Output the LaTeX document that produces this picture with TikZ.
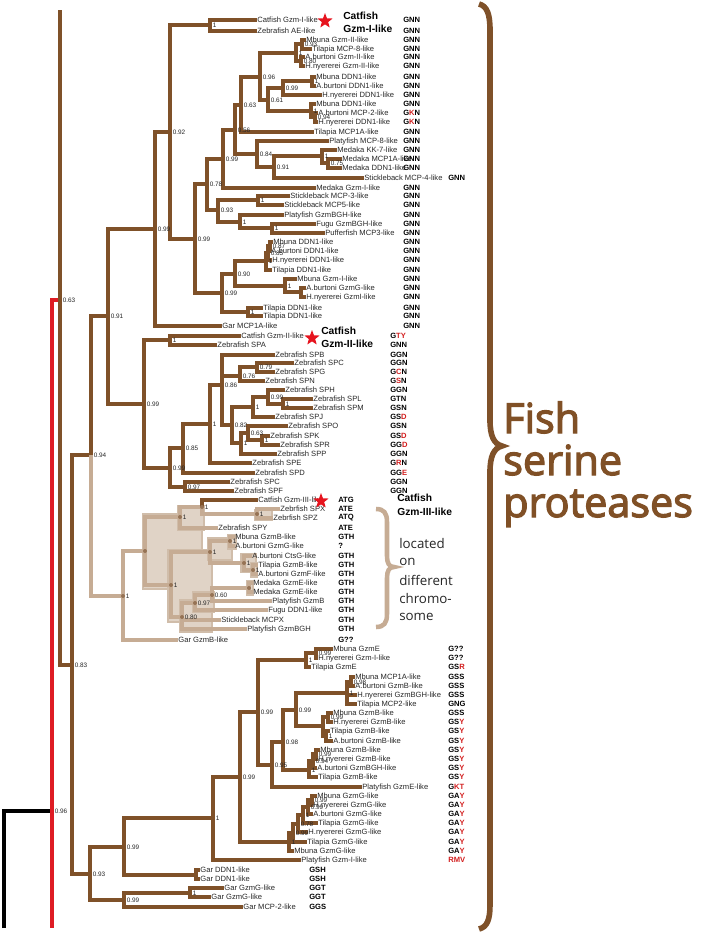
\documentclass[tikz,border=0pt]{standalone}
\usepackage{fontspec}
\setmainfont{Liberation Sans}
\newfontfamily\osans{Open Sans}
\newfontfamily\bigfont{Open Sans}[FakeBold=3]
\usetikzlibrary{shapes.geometric}
\definecolor{dbrown}{RGB}{127,81,41}
\definecolor{lbrown}{RGB}{198,172,148}
\definecolor{shadefill}{RGB}{224,211,198}
\definecolor{shadeedge}{RGB}{208,189,170}
\definecolor{dotc}{RGB}{150,115,85}
\definecolor{treered}{RGB}{222,28,36}
\definecolor{codered}{RGB}{210,30,30}
\definecolor{starred}{RGB}{230,20,30}
\definecolor{bigbrown}{RGB}{128,80,38}
\newcommand\rd[1]{\textcolor{codered}{#1}}
\begin{document}
\begin{tikzpicture}[x=0.75pt,y=-0.75pt,
  tbr/.style={draw=dbrown,line width=3pt},
  tlt/.style={draw=lbrown,line width=3.4pt},
  blk/.style={draw=black,line width=2.3pt},
  redl/.style={draw=treered,line width=2.3pt},
  rootb/.style={draw=dbrown,line width=2.3pt},
  leaf/.style={anchor=west,inner sep=0.3pt,outer sep=0pt,text height=4.2pt,text depth=1.2pt,font=\fontsize{5.7}{6}\selectfont,text=black!85},
  sup/.style={anchor=west,inner sep=0pt,font=\fontsize{4.8}{5}\selectfont,text=black!85},
  code/.style={anchor=west,inner sep=0pt,font=\bfseries\fontsize{5.7}{6}\selectfont},
  boldlab/.style={anchor=west,inner sep=0pt,font=\bfseries\fontsize{7.7}{9}\selectfont},
  starn/.style={star,star points=5,star point ratio=2.4,fill=starred,inner sep=0pt,minimum size=12pt},
  shadebox/.style={fill=shadefill,draw=shadeedge,line width=1.6pt},
  chromo/.style={anchor=west,inner sep=0pt,font=\osans\fontsize{10}{12}\selectfont,text=black!85},
  big/.style={anchor=base west,inner sep=0pt,font=\bigfont\fontsize{31}{31}\selectfont,text=bigbrown}]
\useasboundingbox (0,0) rectangle (701,933);

% ---------- shading of the light clade ----------
\filldraw[shadebox] (143,514) rectangle (202,589);
\filldraw[shadebox] (178,506) rectangle (204,530);
\filldraw[shadebox] (168,550) rectangle (212,622);
\filldraw[shadebox] (208,538) rectangle (232,560);
\filldraw[shadebox] (228,535) rectangle (236,549);
\filldraw[shadebox] (241,554) rectangle (256,572);
\filldraw[shadebox] (251,563) rectangle (257,577);
\filldraw[shadebox] (180,600) rectangle (212,632);
\filldraw[shadebox] (193,592) rectangle (214,612);
\filldraw[shadebox] (247,581) rectangle (253,595);
\filldraw[shadebox] (255,510) rectangle (272,520);

% ---------- internal node coordinates ----------
\coordinate (rb) at (4,928);
\coordinate (n096) at (52,811);
\coordinate (n096e) at (52,928);
\coordinate (n063) at (60,300);
\coordinate (n063e) at (60,10);
\coordinate (n083) at (72,665);
\coordinate (n094) at (91,455);
\coordinate (n091) at (108,316);
\coordinate (n093) at (90,874);
% group 1
\coordinate (g1) at (155,229);
\coordinate (n092) at (170,132);
\coordinate (p1) at (210,25);
\coordinate (n099a) at (195,239);
\coordinate (n078) at (207,184);
\coordinate (n099b) at (223,159);
\coordinate (n056) at (235,130);
\coordinate (n063b) at (241,105);
\coordinate (n096b) at (260,77);
\coordinate (c2) at (296,53);
\coordinate (c2a) at (302,44);
\coordinate (c2b) at (301,61);
\coordinate (n061) at (268,100);
\coordinate (n099c) at (283,88);
\coordinate (d1) at (312,81);
\coordinate (d2) at (311,111);
\coordinate (d2b) at (315,117);
\coordinate (n084) at (257,154);
\coordinate (n091b) at (274,167);
\coordinate (m1) at (322,156);
\coordinate (m2) at (328,163);
\coordinate (n093b) at (218,210);
\coordinate (s1) at (258,200);
\coordinate (s2) at (240,222);
\coordinate (s3) at (272,228);
\coordinate (n099d) at (222,293);
\coordinate (n090) at (235,274);
\coordinate (k1) at (270,246);
\coordinate (k2) at (268,253);
\coordinate (k3) at (266,261);
\coordinate (gz) at (285,286);
\coordinate (gz2) at (301,292);
\coordinate (t1) at (248,312);
% group 2
\coordinate (g2) at (144,404);
\coordinate (cp) at (170,340);
\coordinate (z099) at (170,468);
\coordinate (z085) at (183,448);
\coordinate (z1) at (210,424);
\coordinate (z086) at (222,385);
\coordinate (z076) at (240,376);
\coordinate (z079) at (257,367);
\coordinate (z082) at (232,425);
\coordinate (q3) at (253,407);
\coordinate (q2) at (268,397);
\coordinate (q1) at (283,404);
\coordinate (q6) at (241,443);
\coordinate (q5) at (248,433);
\coordinate (q4) at (262,440);
\coordinate (z097) at (185,487);
% group 3
\coordinate (nL1) at (123,596);
\coordinate (nN) at (145,551);
\coordinate (M1) at (180,517);
\coordinate (M2) at (202,507);
\coordinate (x1) at (257,514);
\coordinate (M3) at (171,585);
\coordinate (M4) at (210,552);
\coordinate (a1) at (230,541);
\coordinate (a2) at (244,563);
\coordinate (a3) at (253,570);
\coordinate (M5) at (182,617);
\coordinate (b97) at (195,603);
\coordinate (b60) at (212,595);
\coordinate (b1) at (249,588);
% group 4
\coordinate (A99) at (124,847);
\coordinate (al) at (213,818);
\coordinate (be) at (240,777);
\coordinate (ga) at (258,712);
\coordinate (E1) at (306,660);
\coordinate (E0) at (316,653);
\coordinate (f95) at (272,765);
\coordinate (f98) at (283,742);
\coordinate (de) at (296,710);
\coordinate (C1) at (347,693);
\coordinate (C0) at (351,682);
\coordinate (B1) at (323,726);
\coordinate (B0) at (328,717);
\coordinate (Ba) at (326,736);
\coordinate (B2c) at (309,770);
\coordinate (B2b) at (313,761);
\coordinate (B2a) at (316,754);
\coordinate (G1) at (312,800);
\coordinate (G2) at (308,807);
\coordinate (G3) at (303,815);
\coordinate (G4) at (298,824);
\coordinate (G5) at (293,833);
\coordinate (G6) at (289,842);
\coordinate (gd) at (196,875);
\coordinate (B99) at (124,900);
\coordinate (gg) at (190,893);

% ---------- leaves ----------
\node[leaf] (l01) at (257,20) {Catfish Gzm-I-like};
\node[leaf] (l02) at (257,31) {Zebrafish AE-like};
\node[leaf] (l03) at (306,40) {Mbuna Gzm-II-like};
\node[leaf] (l04) at (312,49) {Tilapia MCP-8-like};
\node[leaf] (l05) at (305,57) {A.burtoni Gzm-II-like};
\node[leaf] (l06) at (305,66) {H.nyererei Gzm-II-like};
\node[leaf] (l07) at (316,77) {Mbuna DDN1-like};
\node[leaf] (l08) at (316,86) {A.burtoni DDN1-like};
\node[leaf] (l09) at (322,95) {H.nyererei DDN1-like};
\node[leaf] (l10) at (316,104) {Mbuna DDN1-like};
\node[leaf] (l11) at (318,113) {A.burtoni MCP-2-like};
\node[leaf] (l12) at (318,122) {H.nyererei DDN1-like};
\node[leaf] (l13) at (314,132) {Tilapia MCP1A-like};
\node[leaf] (l14) at (329,141) {Platyfish MCP-8-like};
\node[leaf] (l15) at (337,150) {Medaka KK-7-like};
\node[leaf] (l16) at (342,159) {Medaka MCP1A-like};
\node[leaf] (l17) at (342,168) {Medaka DDN1-like};
\node[leaf] (l18) at (364,178) {Stickleback MCP-4-like};
\node[leaf] (l19) at (316,188) {Medaka Gzm-I-like};
\node[leaf] (l20) at (290,196) {Stickleback MCP-3-like};
\node[leaf] (l21) at (284,205) {Stickleback MCP5-like};
\node[leaf] (l22) at (284,215) {Platyfish GzmBGH-like};
\node[leaf] (l23) at (316,224) {Fugu GzmBGH-like};
\node[leaf] (l24) at (325,233) {Pufferfish MCP3-like};
\node[leaf] (l25) at (273,242) {Mbuna DDN1-like};
\node[leaf] (l26) at (271,251) {A.burtoni DDN1-like};
\node[leaf] (l27) at (272,260) {H.nyererei DDN1-like};
\node[leaf] (l28) at (272,270) {Tilapia DDN1-like};
\node[leaf] (l29) at (297,279) {Mbuna Gzm-I-like};
\node[leaf] (l30) at (306,288) {A.burtoni GzmG-like};
\node[leaf] (l31) at (306,297) {H.nyererei GzmI-like};
\node[leaf] (l32) at (263,308) {Tilapia DDN1-like};
\node[leaf] (l33) at (263,316) {Tilapia DDN1-like};
\node[leaf] (l34) at (222,326) {Gar MCP1A-like};
\node[leaf] (l35) at (241,336) {Catfish Gzm-II-like};
\node[leaf] (l36) at (217,345) {Zebrafish SPA};
\node[leaf] (l37) at (275,355) {Zebrafish SPB};
\node[leaf] (l38) at (294,363) {Zebrafish SPC};
\node[leaf] (l39) at (275,372) {Zebrafish SPG};
\node[leaf] (l40) at (265,381) {Zebrafish SPN};
\node[leaf] (l41) at (285,390) {Zebrafish SPH};
\node[leaf] (l42) at (313,399) {Zebrafish SPL};
\node[leaf] (l43) at (313,408) {Zebrafish SPM};
\node[leaf] (l44) at (275,417) {Zebrafish SPJ};
\node[leaf] (l45) at (288,426) {Zebrafish SPO};
\node[leaf] (l46) at (270,436) {Zebrafish SPK};
\node[leaf] (l47) at (280,445) {Zebrafish SPR};
\node[leaf] (l48) at (277,454) {Zebrafish SPP};
\node[leaf] (l49) at (252,463) {Zebrafish SPE};
\node[leaf] (l50) at (255,473) {Zebrafish SPD};
\node[leaf] (l51) at (230,482) {Zebrafish SPC};
\node[leaf] (l52) at (234,491) {Zebrafish SPF};
\node[leaf] (l53) at (258,500) {Catfish Gzm-III-like};
\node[leaf] (l54) at (280,509) {Zebrfish SPX};
\node[leaf] (l55) at (273,518) {Zebrfish SPZ};
\node[leaf] (l56) at (218,528) {Zebrafish SPY};
\node[leaf] (l57) at (235,537) {Mbuna GzmB-like};
\node[leaf] (l58) at (235,546) {A.burtoni GzmG-like};
\node[leaf] (l59) at (252,556) {A.burtoni CtsG-like};
\node[leaf] (l60) at (258,565) {Tilapia GzmB-like};
\node[leaf] (l61) at (258,574) {A.burtoni GzmF-like};
\node[leaf] (l62) at (253,583) {Medaka GzmE-like};
\node[leaf] (l63) at (253,592) {Medaka GzmE-like};
\node[leaf] (l64) at (272,601) {Platyfish GzmB};
\node[leaf] (l65) at (268,610) {Fugu DDN1-like};
\node[leaf] (l66) at (221,620) {Stickleback MCPX};
\node[leaf] (l67) at (247,629) {Platyfish GzmBGH};
\node[leaf] (l68) at (178,640) {Gar GzmB-like};
\node[leaf] (l69) at (333,649) {Mbuna GzmE};
\node[leaf] (l70) at (318,658) {H.nyererei Gzm-I-like};
\node[leaf] (l71) at (311,667) {Tilapia GzmE};
\node[leaf] (l72) at (355,677) {Mbuna MCP1A-like};
\node[leaf] (l73) at (355,686) {A.burtoni GzmB-like};
\node[leaf] (l74) at (357,695) {H.nyererei GzmBGH-like};
\node[leaf] (l75) at (357,704) {Tilapia MCP2-like};
\node[leaf] (l76) at (333,713) {Mbuna GzmB-like};
\node[leaf] (l77) at (333,722) {H.nyererei GzmB-like};
\node[leaf] (l78) at (330,731) {Tilapia GzmB-like};
\node[leaf] (l79) at (333,741) {A.burtoni GzmB-like};
\node[leaf] (l80) at (320,750) {Mbuna GzmB-like};
\node[leaf] (l81) at (318,759) {H.nyererei GzmB-like};
\node[leaf] (l82) at (317,768) {A.burtoni GzmBGH-like};
\node[leaf] (l83) at (318,777) {Tilapia GzmB-like};
\node[leaf] (l84) at (362,787) {Platyfish GzmE-like};
\node[leaf] (l85) at (317,796) {Mbuna GzmG-like};
\node[leaf] (l86) at (313,805) {H.nyererei GzmG-like};
\node[leaf] (l87) at (313,814) {A.burtoni GzmG-like};
\node[leaf] (l88) at (318,823) {Tilapia GzmG-like};
\node[leaf] (l89) at (308,832) {H.nyererei GzmG-like};
\node[leaf] (l90) at (307,842) {Tilapia GzmG-like};
\node[leaf] (l91) at (294,851) {Mbuna GzmG-like};
\node[leaf] (l92) at (301,860) {Platyfish Gzm-I-like};
\node[leaf] (l93) at (200,870) {Gar DDN1-like};
\node[leaf] (l94) at (200,879) {Gar DDN1-like};
\node[leaf] (l95) at (224,888) {Gar GzmG-like};
\node[leaf] (l96) at (211,897) {Gar GzmG-like};
\node[leaf] (l97) at (243,907) {Gar MCP-2-like};

% ---------- root ----------
\draw[blk] (rb) |- (n096);
\draw[redl] (n096) |- (n063) (n096) -- (n096e);
\draw[rootb] (n063) -- (n063e);
\draw[tbr] (n063) |- (n083);
\draw[tbr] (n083) |- (n094) (n083) |- (n093);
\draw[tlt] (n094) |- (nL1);
\draw[tbr] (n094) |- (n091);
\draw[tbr] (n091) |- (g1) (n091) |- (g2);

% ---------- group 1 ----------
\draw[tbr] (g1) |- (n092) (g1) |- (l34);
\draw[tbr] (n092) |- (p1) (n092) |- (n099a);
\draw[tbr] (p1) |- (l01) (p1) |- (l02);
\draw[tbr] (n099a) |- (n078) (n099a) |- (n099d);
\draw[tbr] (n078) |- (n099b) (n078) |- (n093b);
\draw[tbr] (n099b) |- (n056) (n099b) |- (l19);
\draw[tbr] (n056) |- (n063b) (n056) |- (n084);
\draw[tbr] (n063b) |- (n096b) (n063b) |- (l13);
\draw[tbr] (n096b) |- (c2) (n096b) |- (n061);
\draw[tbr] (c2) |- (c2a) (c2) |- (c2b);
\draw[tbr] (c2a) |- (l03) (c2a) |- (l04);
\draw[tbr] (c2b) |- (l05) (c2b) |- (l06);
\draw[tbr] (n061) |- (n099c) (n061) |- (d2);
\draw[tbr] (n099c) |- (d1) (n099c) |- (l09);
\draw[tbr] (d1) |- (l07) (d1) |- (l08);
\draw[tbr] (d2) |- (l10) (d2) |- (d2b);
\draw[tbr] (d2b) |- (l11) (d2b) |- (l12);
\draw[tbr] (n084) |- (l14) (n084) |- (n091b);
\draw[tbr] (n091b) |- (m1) (n091b) |- (l18);
\draw[tbr] (m1) |- (l15) (m1) |- (m2);
\draw[tbr] (m2) |- (l16) (m2) |- (l17);
\draw[tbr] (n093b) |- (s1) (n093b) |- (s2);
\draw[tbr] (s1) |- (l20) (s1) |- (l21);
\draw[tbr] (s2) |- (l22) (s2) |- (s3);
\draw[tbr] (s3) |- (l23) (s3) |- (l24);
\draw[tbr] (n099d) |- (n090) (n099d) |- (t1);
\draw[tbr] (n090) |- (k3) (n090) |- (gz);
\draw[tbr] (k3) |- (k2) (k3) |- (l28);
\draw[tbr] (k2) |- (k1) (k2) |- (l27);
\draw[tbr] (k1) |- (l25) (k1) |- (l26);
\draw[tbr] (gz) |- (l29) (gz) |- (gz2);
\draw[tbr] (gz2) |- (l30) (gz2) |- (l31);
\draw[tbr] (t1) |- (l32) (t1) |- (l33);

% ---------- group 2 ----------
\draw[tbr] (g2) |- (cp) (g2) |- (z099);
\draw[tbr] (cp) |- (l35) (cp) |- (l36);
\draw[tbr] (z099) |- (z085) (z099) |- (z097);
\draw[tbr] (z085) |- (z1) (z085) |- (l50);
\draw[tbr] (z1) |- (z086) (z1) |- (l49);
\draw[tbr] (z086) |- (l37) (z086) |- (z076) (z086) |- (z082);
\draw[tbr] (z076) |- (z079) (z076) |- (l40);
\draw[tbr] (z079) |- (l38) (z079) |- (l39);
\draw[tbr] (z082) |- (q3) (z082) |- (q6);
\draw[tbr] (q3) |- (q2) (q3) |- (l44);
\draw[tbr] (q2) |- (l41) (q2) |- (q1);
\draw[tbr] (q1) |- (l42) (q1) |- (l43);
\draw[tbr] (q6) |- (q5) (q6) |- (l48);
\draw[tbr] (q5) |- (l45) (q5) |- (q4);
\draw[tbr] (q4) |- (l46) (q4) |- (l47);
\draw[tbr] (z097) |- (l51) (z097) |- (l52);

% ---------- group 3 (light) ----------
\draw[tlt] (nL1) |- (nN) (nL1) |- (l68);
\draw[tlt] (nN) |- (M1) (nN) |- (M3);
\draw[tlt] (M1) |- (M2) (M1) |- (l56);
\draw[tlt] (M2) |- (x1);
\draw[tbr] (M2) |- (l53);
\draw[tlt] (x1) |- (l54) (x1) |- (l55);
\draw[tlt] (M3) |- (M4) (M3) |- (M5);
\draw[tlt] (M4) |- (a1) (M4) |- (a2);
\draw[tlt] (a1) |- (l57) (a1) |- (l58);
\draw[tlt] (a2) |- (l59) (a2) |- (a3);
\draw[tlt] (a3) |- (l60) (a3) |- (l61);
\draw[tlt] (M5) |- (b97) (M5) |- (l66) (M5) |- (l67);
\draw[tlt] (b97) |- (b60) (b97) |- (l65);
\draw[tlt] (b60) |- (b1) (b60) |- (l64);
\draw[tlt] (b1) |- (l62) (b1) |- (l63);
\foreach \p in {nL1,nN,M1,M2,x1,M3,M4,a1,a2,a3,M5,b97,b60,b1}
  \fill[dotc] (\p) circle (2);

% ---------- group 4 ----------
\draw[tbr] (n093) |- (A99) (n093) |- (B99);
\draw[tbr] (A99) |- (al) (A99) |- (gd);
\draw[tbr] (al) |- (be) (al) |- (l92);
\draw[tbr] (be) |- (ga) (be) |- (G6);
\draw[tbr] (ga) |- (E1) (ga) |- (f95);
\draw[tbr] (E1) |- (E0) (E1) |- (l71);
\draw[tbr] (E0) |- (l69) (E0) |- (l70);
\draw[tbr] (f95) |- (f98) (f95) |- (l84);
\draw[tbr] (f98) |- (de) (f98) |- (B2c);
\draw[tbr] (de) |- (C1) (de) |- (B1);
\draw[tbr] (C1) |- (C0) (C1) |- (l74) (C1) |- (l75);
\draw[tbr] (C0) |- (l72) (C0) |- (l73);
\draw[tbr] (B1) |- (B0) (B1) |- (Ba);
\draw[tbr] (B0) |- (l76) (B0) |- (l77);
\draw[tbr] (Ba) |- (l78) (Ba) |- (l79);
\draw[tbr] (B2c) |- (B2b) (B2c) |- (l83);
\draw[tbr] (B2b) |- (B2a) (B2b) |- (l82);
\draw[tbr] (B2a) |- (l80) (B2a) |- (l81);
\draw[tbr] (G6) |- (G5) (G6) |- (l91);
\draw[tbr] (G5) |- (G4) (G5) |- (l90);
\draw[tbr] (G4) |- (G3) (G4) |- (l89);
\draw[tbr] (G3) |- (G2) (G3) |- (l88);
\draw[tbr] (G2) |- (G1) (G2) |- (l87);
\draw[tbr] (G1) |- (l85) (G1) |- (l86);
\draw[tbr] (gd) |- (l93) (gd) |- (l94);
\draw[tbr] (B99) |- (gg) (B99) |- (l97);
\draw[tbr] (gg) |- (l95) (gg) |- (l96);

% ---------- support values ----------
\foreach \p/\t in {n063/0.63,n096/0.96,n083/0.83,n094/0.94,n091/0.91,n093/0.93,
  g1/0.99,n092/0.92,p1/1,n099a/0.99,n078/0.78,n099b/0.99,n056/0.56,n063b/0.63,
  n096b/0.96,c2/1,c2a/0.93,c2b/0.80,n061/0.61,n099c/0.99,d1/1,d2/1,d2b/0.94,
  n084/0.84,n091b/0.91,m1/1,m2/0.75,n093b/0.93,s1/1,s2/1,s3/1,n099d/0.99,
  n090/0.90,k1/0.87,k2/0.85,k3/1,gz/1,t1/1,
  g2/0.99,cp/1,z099/0.99,z085/0.85,z1/1,z086/0.86,z076/0.76,z079/0.79,z082/0.82,
  q3/1,q2/0.99,q1/1,q6/1,q5/0.63,q4/1,z097/0.97,
  nL1/1,M1/1,M2/1,x1/1,M3/1,M4/1,a1/1,a2/1,a3/1,M5/0.80,b97/0.97,b60/0.60,
  A99/0.99,al/1,be/0.99,ga/0.99,E1/1,E0/0.99,f95/0.95,f98/0.98,de/0.99,C1/1,
  C0/0.98,B0/0.99,Ba/1,B2c/1,B2b/0.94,B2a/0.99,G6/1,G5/0.99,G4/0.78,G3/1,
  G2/0.99,G1/0.99,B99/0.99,gg/1}
  \path (\p) ++(2.5,0) node[sup] {\t};

% ---------- codes ----------
\foreach \y in {20,31,40,49,57,66,77,86,95,104,132,141,150,159,168,188,196,205,215,224,233,242,251,260,270,279,288,297,308,316,326}
  \node[code] at (403,\y) {GNN};
\node[code] at (403,113) {G\rd{K}N};
\node[code] at (403,122) {G\rd{K}N};
\node[code] at (448,178) {GNN};
\node[code] at (390,336) {G\rd{TY}};
\node[code] at (390,345) {GNN};
\node[code] at (390,355) {GGN};
\node[code] at (390,363) {GGN};
\node[code] at (390,372) {G\rd{C}N};
\node[code] at (390,381) {G\rd{S}N};
\node[code] at (390,390) {GGN};
\node[code] at (390,399) {GTN};
\node[code] at (390,408) {GSN};
\node[code] at (390,417) {GS\rd{D}};
\node[code] at (390,426) {GSN};
\node[code] at (390,436) {GS\rd{D}};
\node[code] at (390,445) {GG\rd{D}};
\node[code] at (390,454) {GGN};
\node[code] at (390,463) {G\rd{R}N};
\node[code] at (390,473) {GG\rd{E}};
\node[code] at (390,482) {GGN};
\node[code] at (390,491) {GGN};
\node[code] at (338,500) {ATG};
\node[code] at (338,509) {ATE};
\node[code] at (338,518) {ATQ};
\node[code] at (338,528) {ATE};
\node[code] at (338,537) {GTH};
\node[code] at (338,546) {?};
\foreach \y in {556,565,574,583,592,601,610,620,629}
  \node[code] at (338,\y) {GTH};
\node[code] at (338,640) {G??};
\node[code] at (448,649) {G??};
\node[code] at (448,658) {G??};
\node[code] at (448,667) {GS\rd{R}};
\node[code] at (448,677) {GSS};
\node[code] at (448,686) {GSS};
\node[code] at (448,695) {GSS};
\node[code] at (448,704) {GNG};
\node[code] at (448,713) {GSS};
\foreach \y in {722,731,741,750,759,768,777}
  \node[code] at (448,\y) {GS\rd{Y}};
\node[code] at (448,787) {G\rd{KT}};
\foreach \y in {796,805,814,823,832,842,851}
  \node[code] at (448,\y) {GA\rd{Y}};
\node[code] at (448,860) {\rd{RMV}};
\node[code] at (309,870) {GSH};
\node[code] at (309,879) {GSH};
\node[code] at (309,888) {GGT};
\node[code] at (309,897) {GGT};
\node[code] at (309,907) {GGS};

% ---------- catfish labels and stars ----------
\node[starn] (st1) at (325,21) {};
\node[starn] (st2) at (312,338) {};
\node[starn] (st3) at (321,501) {};
\node[boldlab] (cf1a) at (343,16) {Catfish};
\node[boldlab] (cf1b) at (343,29) {Gzm-I-like};
\node[boldlab] (cf2a) at (321,331) {Catfish};
\node[boldlab] (cf2b) at (321,344) {Gzm-II-like};
\node[boldlab] (cf3a) at (397,498) {Catfish};
\node[boldlab] (cf3b) at (397,512) {Gzm-III-like};

% ---------- small brace and text ----------
\draw[draw=lbrown,line width=3.4pt] (376,509) .. controls (384,509) and (387,513) .. (387,522) -- (387,556) .. controls (387,563) and (389,567) .. (394,567) .. controls (389,567) and (387,571) .. (387,578) -- (387,614) .. controls (387,623) and (384,627) .. (376,627);
\node[chromo] (t1a) at (399,543) {located};
\node[chromo] (t1b) at (399,562) {on};
\node[chromo] (t1c) at (399,580) {different};
\node[chromo] (t1d) at (399,598) {chromo-};
\node[chromo] (t1e) at (399,617) {some};

% ---------- big brace and title ----------
\draw[draw=dbrown,line width=4.2pt] (479,4) .. controls (487,6) and (490,14) .. (490,30) -- (490,420) .. controls (490,436) and (494,444) .. (502,446) .. controls (494,448) and (490,456) .. (490,472) -- (490,905) .. controls (490,920) and (487,927) .. (479,929);
\node[big] (fish) at (503,433) {Fish};
\node[big] (serine) at (503,475) {serine};
\node[big] (prot) at (503,517) {proteases};
\end{tikzpicture}
\end{document}
